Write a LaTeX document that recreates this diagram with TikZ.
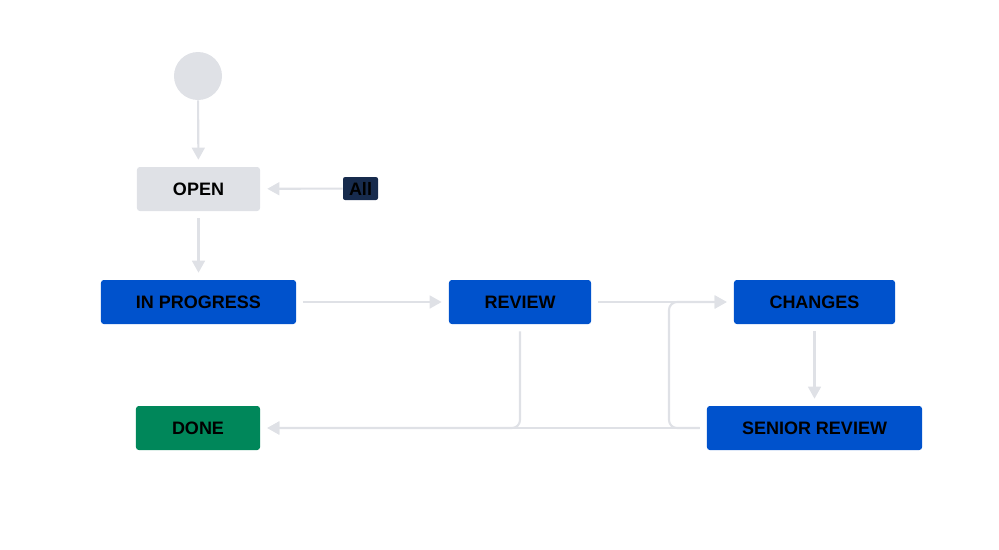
\documentclass[tikz,border=0pt]{standalone}
\usepackage{fontspec}
\setmainfont{Liberation Sans}
\usetikzlibrary{positioning,arrows.meta}
\definecolor{cinza}{HTML}{DFE1E6}
\definecolor{azul}{HTML}{0052CC}
\definecolor{verde}{HTML}{00875A}
\definecolor{marinho}{HTML}{172B4D}

\begin{document}
\begin{tikzpicture}[x=0.025cm,y=-0.025cm,
  estado/.style={rectangle,rounded corners=2pt,fill=azul,text=black,font=\fontsize{12.8}{14}\selectfont\bfseries,minimum height=1.1cm,inner sep=0pt},
  etiqueta/.style={rectangle,rounded corners=1.5pt,fill=marinho,text=black,font=\fontsize{12.8}{14}\selectfont\bfseries,minimum width=0.875cm,minimum height=0.575cm,inner sep=0pt},
  seta/.style={-{Triangle[length=0.3cm,width=0.32cm]},line width=1.5pt,draw=cinza,shorten <=0.175cm,shorten >=0.175cm}]
\useasboundingbox (0,0) rectangle (999,549);
% estados
\node[circle,fill=cinza,minimum size=1.2cm,inner sep=0pt] (inicio) at (198,76) {};
\node[estado,fill=cinza,minimum width=3.075cm] (open) at (198.5,189) {OPEN};
\node[etiqueta] (all) at (360.5,188.5) {All};
\node[estado,minimum width=4.875cm] (prog) at (198.5,302) {IN PROGRESS};
\node[estado,minimum width=3.55cm] (review) at (520,302) {REVIEW};
\node[estado,minimum width=4.025cm] (changes) at (814.5,302) {CHANGES};
\node[estado,fill=verde,minimum width=3.1cm] (done) at (198,428) {DONE};
\node[estado,minimum width=5.375cm] (senior) at (814.5,428) {SENIOR REVIEW};
\coordinate (volta) at (669,302);
% transicoes
\draw[seta,shorten <=0pt] (inicio) -- (open);
\draw[seta,shorten <=0pt] (all) -- (open);
\foreach \x/\y in {open/prog,prog/review,review/changes,changes/senior,senior/done} \draw[seta] (\x)--(\y);
\draw[seta,rounded corners=0.2cm] (review.south) |- (done.east);
\draw[seta,rounded corners=0.2cm] (senior.west) -| (volta) -- (changes.west);
\end{tikzpicture}
\end{document}
